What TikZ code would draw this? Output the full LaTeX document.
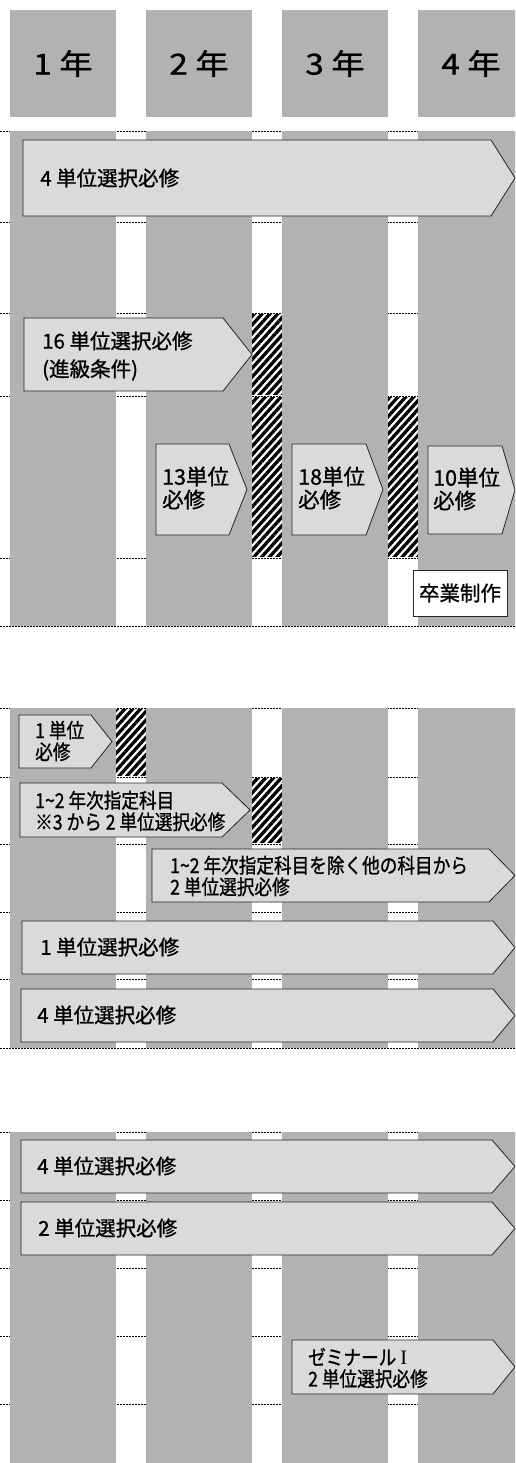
\documentclass[tikz,border=0pt]{standalone}
\usepackage{fontspec}
\setmainfont[FakeBold=1]{Noto Sans CJK JP}
\newfontfamily\jpcond[FakeStretch=0.86, FakeBold=1]{Noto Sans CJK JP}
\newfontfamily\jpwide[FakeStretch=1.15, FakeBold=1]{Noto Sans CJK JP}
\newfontfamily\romnum{Liberation Serif}
\usetikzlibrary{patterns.meta}
\definecolor{colgray}{gray}{0.70}
\definecolor{plategray}{gray}{0.855}
% x1, x2 (end of body), x3 (tip), top, bottom
\newcommand{\plateshape}[5]{\draw[plate] (#1,#4) -- (#2,#4) -- (#3,{(#4+#5)/2}) -- (#2,#5) -- (#1,#5) -- cycle;}

\begin{document}
\begin{tikzpicture}[x=1pt, y=-1pt,
  col/.style={fill=colgray, draw=none},
  yearbox/.style={fill=colgray, minimum width=106pt, minimum height=107pt, inner sep=0pt, font=\jpwide\fontsize{29}{32}\selectfont},
  plate/.style={fill=plategray, draw=black!85, line width=0.8pt},
  lbl/.style={anchor=west, align=left, inner sep=0pt, font=\fontsize{20.5}{28}\selectfont},
  lbls/.style={lbl, font=\fontsize{21.5}{23}\selectfont},
  lblc/.style={lbl, font=\jpcond\fontsize{20.5}{21.5}\selectfont},
  grid/.style={line width=0.8pt, dash pattern=on 2pt off 1pt, preaction={draw=white, solid, line width=1.4pt}},
  hatch/.style={pattern={Lines[angle=48, distance=5.8pt, line width=3.3pt]}},
  endbox/.style={draw=black!85, fill=white, line width=0.8pt, minimum width=94pt, minimum height=46pt, inner sep=0pt, font=\fontsize{20.5}{24}\selectfont}]
\useasboundingbox (0,0) rectangle (515,1463);
\clip (0,0) rectangle (515,1463);

% year headers
\node[yearbox] (y1) at (63,63.5) {1 年};
\node[yearbox] (y2) at (199,63.5) {2 年};
\node[yearbox] (y3) at (335,63.5) {3 年};
\node[yearbox] (y4) at (471,63.5) {4 年};

% hatched bars in the gaps
\fill[hatch] (252,313) rectangle (282,558);
\fill[hatch] (388,396) rectangle (418,558);
\fill[hatch] (116,708) rectangle (146,777);
\fill[hatch] (252,777) rectangle (282,844);

% row lines
\foreach \y in {131,222,313,396,558,626,708,777,844,912,979,1048,1132,1200,1268,1336,1404}
  \draw[grid] (0,\y) -- (515,\y);

% columns
\foreach \x in {10,146,282,418} {
  \fill[col] (\x,131) rectangle ++(106,495);
  \fill[col] (\x,708) rectangle ++(106,340);
  \fill[col] (\x,1132) rectangle ++(106,340);
}

% block 1
\plateshape{23}{491}{515}{140}{216}
\node[lbl] (a1) at (40,178) {4 単位選択必修};
\plateshape{24}{223}{252}{318}{391}
\node[lbl] (a2) at (42,356) {16 単位選択必修\\(進級条件)};
\plateshape{156}{229}{247}{444}{535}
\node[lbls] (a3) at (162,488) {13単位\\必修};
\plateshape{292}{366}{383}{444}{535}
\node[lbls] (a4) at (298,488) {18単位\\必修};
\plateshape{428}{502}{515}{446}{534}
\node[lbls] (a5) at (433,489) {10単位\\必修};
\node[endbox] (grad) at (460,593) {卒業制作};

% block 2
\plateshape{19}{91}{112}{715}{768}
\node[lblc] (b1) at (35,741) {1 単位\\必修};
\plateshape{20}{222}{250}{783}{837}
\node[lblc] (b2) at (35,811) {1\symbol{126}2 年次指定科目\\※3 から 2 単位選択必修};
\plateshape{152}{489}{515}{849}{902}
\node[lblc] (b3) at (170,876) {1\symbol{126}2 年次指定科目を除く他の科目から\\2 単位選択必修};
\plateshape{22}{493}{515}{921}{974}
\node[lbl] (b4) at (40,947) {1 単位選択必修};
\plateshape{21}{493}{515}{989}{1042}
\node[lbl] (b5) at (37,1015) {4 単位選択必修};

% block 3
\plateshape{21}{492}{515}{1140}{1193}
\node[lbl] (c1) at (37,1166) {4 単位選択必修};
\plateshape{21}{492}{515}{1202}{1255}
\node[lbl] (c2) at (38,1228) {2 単位選択必修};
\plateshape{292}{493}{515}{1340}{1394}
\node[lblc] (c3) at (308,1368) {ゼミナール {\romnum I}\\2 単位選択必修};
\end{tikzpicture}
\end{document}
